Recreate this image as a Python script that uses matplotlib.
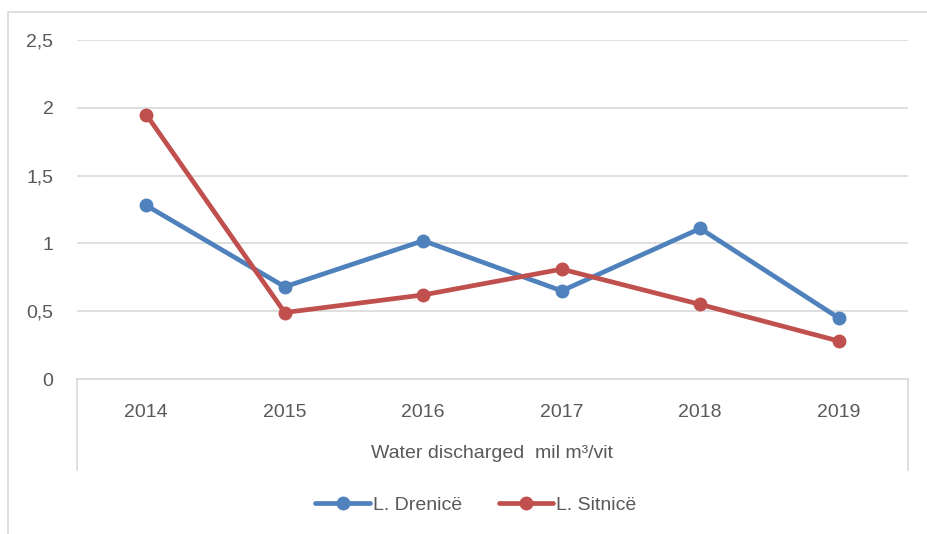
import matplotlib.pyplot as plt
from matplotlib.patches import Rectangle

years = ['2014', '2015', '2016', '2017', '2018', '2019']
drenice = [1.28, 0.68, 1.02, 0.65, 1.11, 0.45]
sitnice = [1.95, 0.49, 0.62, 0.81, 0.55, 0.28]
y_ticks = [0, 0.5, 1, 1.5, 2, 2.5]
y_labels = ['0', '0,5', '1', '1,5', '2', '2,5']

text_col = '#595959'
grid_col = '#d9d9d9'
plt.rcParams['font.family'] = ['Liberation Sans', 'DejaVu Sans']

fig = plt.figure(figsize=(9.28, 5.34), dpi=100)
W, H = 928, 534

# outer chart border (only top and left visible in the crop)
fig.patches.append(Rectangle((7.5 / W, -0.1), 1.2, 1.1 - 11.5 / H,
                             transform=fig.transFigure, fill=False,
                             edgecolor=grid_col, linewidth=1.2))

ax = fig.add_axes([77 / W, 1 - 379 / H, (908 - 77) / W, (379 - 40) / H])

x = list(range(len(years)))
ax.plot(x, drenice, color='#4f81bd', lw=3.4, marker='o', ms=9,
        label='L. Drenicë', solid_capstyle='round', zorder=3)
ax.plot(x, sitnice, color='#c0504d', lw=3.4, marker='o', ms=9,
        label='L. Sitnicë', solid_capstyle='round', zorder=3)

ax.set_xlim(-0.5, 5.5)
ax.set_ylim(0, 2.5)
ax.set_yticks(y_ticks)
ax.set_yticklabels(y_labels)
ax.set_xticks(x)
ax.set_xticklabels(years)
ax.yaxis.grid(True, color=grid_col, lw=1.2)
ax.set_axisbelow(True)
for s in ['top', 'right', 'left']:
    ax.spines[s].set_visible(False)
ax.spines['bottom'].set_color(grid_col)
ax.spines['bottom'].set_linewidth(1.2)
ax.tick_params(axis='both', length=0, labelsize=14, colors=text_col)
ax.tick_params(axis='y', pad=17)
ax.tick_params(axis='x', pad=18)

# table-like side lines under the category axis
low = -(470 - 379) / (379 - 40)
for xv in (0, 1):
    ax.plot([xv, xv], [0, low], transform=ax.transAxes, color=grid_col,
            lw=1.2, clip_on=False)

fig.text(492 / W, 1 - 453 / H, 'Water discharged  mil m³/vit', ha='center',
         va='center', fontsize=14, color=text_col)

leg = fig.legend(loc='center', bbox_to_anchor=(476 / W, 1 - 505 / H), ncol=2,
                 frameon=False, fontsize=14, handlelength=2.8,
                 columnspacing=1.9, handletextpad=0.15)
for t in leg.get_texts():
    t.set_color(text_col)

fig.savefig('out.png', dpi=100)
